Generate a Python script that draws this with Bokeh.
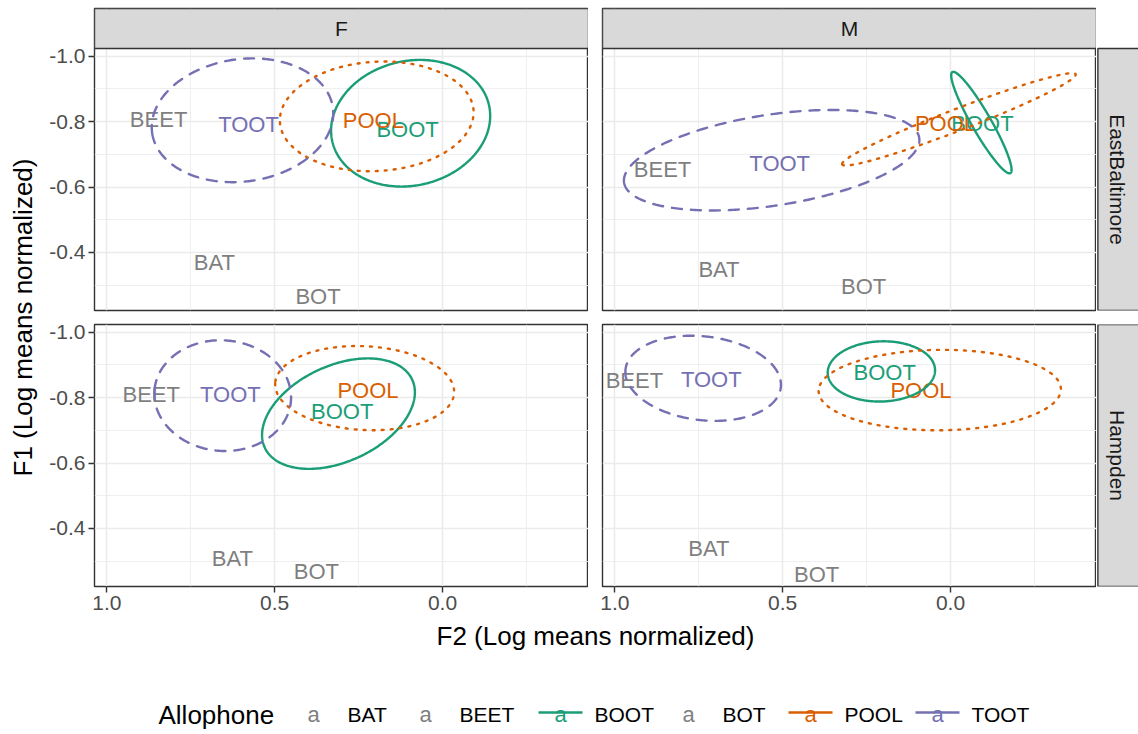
import numpy as np
from bokeh.plotting import figure
from bokeh.models import Range1d, FixedTicker, PrintfTickFormatter, ColumnDataSource
from bokeh.layouts import row, column
from bokeh.embed import file_html
from bokeh.resources import INLINE
from bokeh.core.properties import value

FONT = "Liberation Sans"

# ---------------- data ----------------
sexes = ["F", "M"]
neighborhoods = ["EastBaltimore", "Hampden"]

allophones = ["BAT", "BEET", "BOOT", "BOT", "POOL", "TOOT"]
allophone_colors = ["#7F7F7F", "#7F7F7F", "#1B9E77", "#7F7F7F", "#D95F02", "#7570B3"]

# label positions: mean F2 / F1 per allophone (order as `allophones`)
f_eb_f2 = [0.680, 0.846, 0.104, 0.371, 0.206, 0.578]
f_eb_f1 = [-0.369, -0.805, -0.777, -0.266, -0.802, -0.791]
m_eb_f2 = [0.690, 0.858, -0.095, 0.259, 0.015, 0.509]
m_eb_f1 = [-0.349, -0.654, -0.794, -0.295, -0.794, -0.673]
f_hd_f2 = [0.626, 0.868, 0.299, 0.376, 0.222, 0.632]
f_hd_f1 = [-0.308, -0.809, -0.757, -0.268, -0.823, -0.809]
m_hd_f2 = [0.720, 0.942, 0.196, 0.399, 0.088, 0.713]
m_hd_f1 = [-0.339, -0.851, -0.877, -0.260, -0.823, -0.854]

# ellipses (BOOT, POOL, TOOT): centre F2/F1, semi-axes a/b, rotation in degrees
ellipse_allophones = ["BOOT", "POOL", "TOOT"]
ellipse_colors = ["#1B9E77", "#D95F02", "#7570B3"]
ellipse_dashes = ["solid", "2 7", "10 9"]

f_eb_ell_f2 = [0.095, 0.196, 0.596]
f_eb_ell_f1 = [-0.795, -0.816, -0.804]
f_eb_ell_a = [0.240, 0.289, 0.272]
f_eb_ell_b = [0.190, 0.167, 0.187]
f_eb_ell_deg = [14.8, 3.6, 8.5]

m_eb_ell_f2 = [-0.092, -0.025, 0.533]
m_eb_ell_f1 = [-0.797, -0.807, -0.682]
m_eb_ell_a = [0.177, 0.374, 0.445]
m_eb_ell_b = [0.029, 0.033, 0.139]
m_eb_ell_deg = [-60.8, 21.6, 8.9]

f_hd_ell_f2 = [0.310, 0.232, 0.655]
f_hd_ell_f1 = [-0.751, -0.829, -0.806]
f_hd_ell_a = [0.243, 0.267, 0.204]
f_hd_ell_b = [0.146, 0.128, 0.169]
f_hd_ell_deg = [25.9, -3.2, -5.0]

m_hd_ell_f2 = [0.206, 0.032, 0.737]
m_hd_ell_f1 = [-0.880, -0.823, -0.859]
m_hd_ell_a = [0.160, 0.361, 0.233]
m_hd_ell_b = [0.092, 0.123, 0.128]
m_hd_ell_deg = [2.0, 0.5, -7.0]

x_ticks = [1.0, 0.5, 0.0]
x_minor = [0.75, 0.25, -0.25]
y_ticks = [-1.0, -0.8, -0.6, -0.4]
y_minor = [-0.9, -0.7, -0.5, -0.3]

x_title = "F2 (Log means normalized)"
y_title = "F1 (Log means normalized)"
legend_title = "Allophone"

# ---------------- layout constants ----------------
FW, FH = 494, 262          # panel size in px
STRIP_H = 40               # top strip height in px
STRIP_W = 42               # side strip figure width in px
GAP = 14
HALF_GAP = 7
TOP_B = 8
LEFT_B = 54
BOT_B = 34

X_START, X_END = 1.037, -0.435
Y_BOTTOM, Y_TOP = -0.2225, -1.0235
PX_PER_Y = FH / abs(Y_TOP - Y_BOTTOM)
Y_STRIP_TOP = Y_TOP - STRIP_H / PX_PER_Y

STRIP_FILL = "#D9D9D9"
STRIP_LINE = "#333333"


def blank_fig(w, h):
    f = figure(width=w, height=h, x_range=Range1d(0, w), y_range=Range1d(0, h),
               toolbar_location=None, output_backend="svg", min_border=0,
               x_axis_location=None, y_axis_location=None, title=None)
    f.grid.visible = False
    f.outline_line_color = None
    f.background_fill_color = "white"
    f.border_fill_color = "white"
    return f


def panel(f2, f1, ex, ey, ea, eb, edeg, left_axis, bottom_axis, strip_label=None):
    mbl = LEFT_B if left_axis else GAP
    mbb = BOT_B if bottom_axis else HALF_GAP
    top = strip_label is not None
    mbt = TOP_B if top else HALF_GAP
    fh = FH + (STRIP_H if top else 0)
    y_end = Y_STRIP_TOP if top else Y_TOP
    p = figure(width=mbl + FW, height=mbt + fh + mbb,
               x_range=Range1d(X_START, X_END), y_range=Range1d(Y_BOTTOM, y_end),
               toolbar_location=None, output_backend="svg", title=None,
               x_axis_location="below" if bottom_axis else None,
               y_axis_location="left" if left_axis else None,
               min_border_left=mbl, min_border_right=0, min_border_top=mbt, min_border_bottom=mbb)
    p.background_fill_color = "white"
    p.border_fill_color = "white"
    p.outline_line_color = "#333333"
    p.outline_line_width = 1.4

    p.xgrid.ticker = FixedTicker(ticks=x_ticks, minor_ticks=x_minor)
    p.ygrid.ticker = FixedTicker(ticks=y_ticks, minor_ticks=y_minor)
    for g in (p.xgrid, p.ygrid):
        g.grid_line_color = "#EBEBEB"
        g.grid_line_width = 1.6
        g.minor_grid_line_color = "#EBEBEB"
        g.minor_grid_line_width = 0.8

    axes = []
    if left_axis:
        p.yaxis.ticker = FixedTicker(ticks=y_ticks)
        axes.append(p.yaxis)
    if bottom_axis:
        p.xaxis.ticker = FixedTicker(ticks=x_ticks)
        axes.append(p.xaxis)
    for ax in axes:
        ax.formatter = PrintfTickFormatter(format="%.1f")
        ax.axis_line_color = None
        ax.major_tick_out = 6
        ax.major_tick_in = 0
        ax.minor_tick_out = 0
        ax.minor_tick_in = 0
        ax.major_tick_line_color = "#333333"
        ax.major_tick_line_width = 1.4
        ax.major_label_text_font = FONT
        ax.major_label_text_font_size = "21px"
        ax.major_label_text_color = "#4D4D4D"
        ax.major_label_standoff = 3

    src = ColumnDataSource(dict(x=f2, y=f1, text=allophones, color=allophone_colors))
    p.text(x="x", y="y", text="text", source=src, text_color="color",
           text_font=value(FONT), text_font_size=value("22px"),
           text_align="center", text_baseline="middle")

    t = np.linspace(0, 2 * np.pi, 361)
    for cx, cy, a, b, deg, col, dash in zip(ex, ey, ea, eb, edeg, ellipse_colors, ellipse_dashes):
        th = np.deg2rad(deg)
        xs = cx + a * np.cos(th) * np.cos(t) - b * np.sin(th) * np.sin(t)
        ys = cy + a * np.sin(th) * np.cos(t) + b * np.cos(th) * np.sin(t)
        p.line(xs, ys, line_color=col, line_width=2.4, line_dash=dash,
               line_cap="round", line_join="round")

    if top:
        # facet strip drawn in the band above the data area
        p.quad(left=X_START, right=X_END, bottom=Y_TOP, top=Y_STRIP_TOP,
               fill_color=STRIP_FILL, line_color=STRIP_LINE, line_width=1.4)
        p.text(x=[(X_START + X_END) / 2], y=[(Y_TOP + Y_STRIP_TOP) / 2], text=[strip_label],
               text_color="#1A1A1A", text_font=value(FONT), text_font_size=value("21px"),
               text_align="center", text_baseline="middle")
    return p


TL = panel(f_eb_f2, f_eb_f1, f_eb_ell_f2, f_eb_ell_f1, f_eb_ell_a, f_eb_ell_b, f_eb_ell_deg,
           True, False, sexes[0])
TR = panel(m_eb_f2, m_eb_f1, m_eb_ell_f2, m_eb_ell_f1, m_eb_ell_a, m_eb_ell_b, m_eb_ell_deg,
           False, False, sexes[1])
BL = panel(f_hd_f2, f_hd_f1, f_hd_ell_f2, f_hd_ell_f1, f_hd_ell_a, f_hd_ell_b, f_hd_ell_deg,
           True, True)
BR = panel(m_hd_f2, m_hd_f1, m_hd_ell_f2, m_hd_ell_f1, m_hd_ell_a, m_hd_ell_b, m_hd_ell_deg,
           False, True)


def side_strip(label, top_panel):
    # same vertical borders / range as the neighbouring panel so frames align
    mbt = TOP_B if top_panel else HALF_GAP
    mbb = HALF_GAP if top_panel else BOT_B
    fh = FH + (STRIP_H if top_panel else 0)
    y_end = Y_STRIP_TOP if top_panel else Y_TOP
    s = figure(width=STRIP_W, height=mbt + fh + mbb,
               x_range=Range1d(0, STRIP_W), y_range=Range1d(Y_BOTTOM, y_end),
               toolbar_location=None, output_backend="svg", title=None,
               x_axis_location=None, y_axis_location=None,
               min_border_left=0, min_border_right=0, min_border_top=mbt, min_border_bottom=mbb)
    s.grid.visible = False
    s.outline_line_color = None
    s.background_fill_color = "white"
    s.border_fill_color = "white"
    s.quad(left=1.4, right=STRIP_W + 2, bottom=Y_BOTTOM, top=Y_TOP,
           fill_color=STRIP_FILL, line_color=STRIP_LINE, line_width=1.4)
    s.text(x=[STRIP_W / 2], y=[(Y_BOTTOM + Y_TOP) / 2], text=[label], text_color="#1A1A1A",
           text_font=value(FONT), text_font_size=value("21px"), angle=-np.pi / 2,
           text_align="center", text_baseline="middle")
    return s


sE = side_strip(neighborhoods[0], True)
sH = side_strip(neighborhoods[1], False)

top_row = row(TL, TR, sE)
bot_row = row(BL, BR, sH)
block = column(top_row, bot_row)

block_h = (TOP_B + STRIP_H + FH + HALF_GAP) + (HALF_GAP + FH + BOT_B)
yt = blank_fig(40, block_h)
yt.text(x=[22], y=[block_h - 317], text=[y_title], text_color="black",
        text_font=value(FONT), text_font_size=value("26px"), angle=np.pi / 2,
        text_align="center", text_baseline="middle")

main = row(yt, block)

xt_h = 690 - block_h
xt = blank_fig(1138, xt_h)
xt.text(x=[595], y=[xt_h - 15.5], text=[x_title], text_color="black",
        text_font=value(FONT), text_font_size=value("26px"),
        text_align="center", text_baseline="middle")

leg_h = 734 - 690
leg = blank_fig(1138, leg_h)
yc = 20
leg.text(x=[158], y=[yc], text=[legend_title], text_color="black",
         text_font=value(FONT), text_font_size=value("26px"),
         text_align="left", text_baseline="middle")
key_cx = [313, 425, 560, 688, 810, 937]
for name, col, cx in zip(allophones, allophone_colors, key_cx):
    if name in ellipse_allophones:
        leg.segment(x0=[cx - 22], y0=[yc + 2], x1=[cx + 22], y1=[yc + 2], line_color=col, line_width=2.4)
    leg.text(x=[cx], y=[yc], text=["a"], text_color=col,
             text_font=value(FONT), text_font_size=value("22px"),
             text_align="center", text_baseline="middle")
    leg.text(x=[cx + 34], y=[yc], text=[name], text_color="black",
             text_font=value(FONT), text_font_size=value("21px"),
             text_align="left", text_baseline="middle")

page = column(main, xt, leg)

open("out.html", "w").write(file_html(page, INLINE))
